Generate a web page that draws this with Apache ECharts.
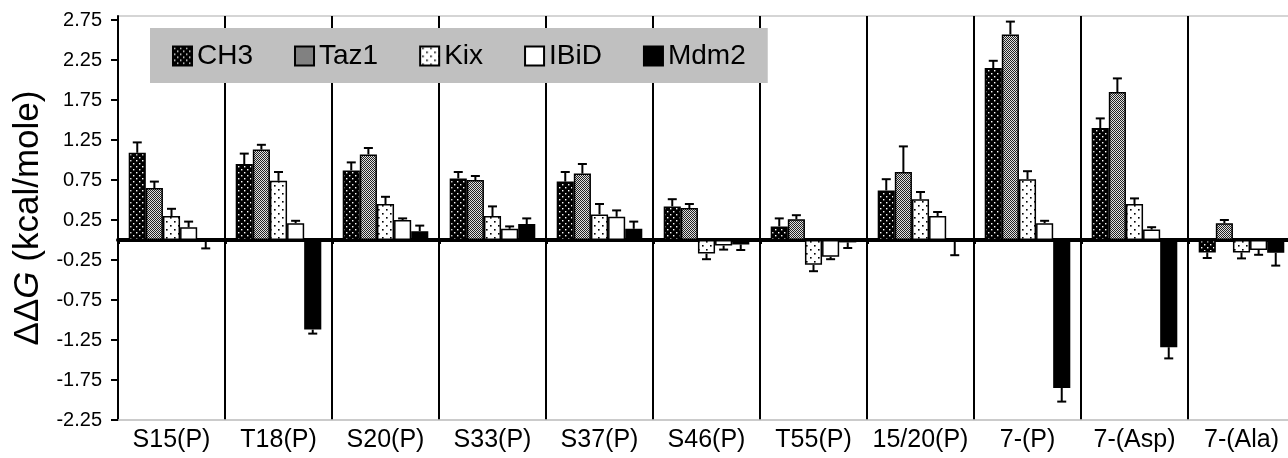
<!DOCTYPE html>
<html>
<head>
<meta charset="utf-8">
<script src="https://cdn.jsdelivr.net/npm/echarts@6/dist/echarts.min.js"></script>
<style>
html,body{margin:0;padding:0;background:#fff;}
#c{width:1288px;height:458px;}
</style>
</head>
<body>
<div id="c"></div>
<script>
const categories = ['S15(P)','T18(P)','S20(P)','S33(P)','S37(P)','S46(P)','T55(P)','15/20(P)','7-(P)','7-(Asp)','7-(Ala)'];
const seriesNames = ['CH3','Taz1','Kix','IBiD','Mdm2'];
const ch3    = [1.09, 0.95, 0.87, 0.77, 0.73, 0.42, 0.17, 0.62, 2.15, 1.40, -0.155];
const ch3Err = [0.13, 0.13, 0.10, 0.08, 0.12, 0.09, 0.10, 0.14, 0.09, 0.12, 0.07];
const taz1    = [0.65, 1.13, 1.07, 0.75, 0.83, 0.40, 0.26, 0.85, 2.57, 1.85, 0.21];
const taz1Err = [0.08, 0.06, 0.08, 0.05, 0.12, 0.05, 0.05, 0.32, 0.16, 0.17, 0.04];
const kix    = [0.30, 0.74, 0.45, 0.30, 0.32, -0.17, -0.31, 0.51, 0.76, 0.45, -0.155];
const kixErr = [0.09, 0.11, 0.09, 0.12, 0.13, 0.07, 0.08, 0.09, 0.10, 0.07, 0.075];
const ibid    = [0.16, 0.21, 0.25, 0.14, 0.29, -0.07, -0.21, 0.30, 0.21, 0.13, -0.125];
const ibidErr = [0.07, 0.03, 0.02, 0.03, 0.08, 0.05, 0.03, 0.05, 0.03, 0.03, 0.06];
const mdm2    = [-0.02, -1.12, 0.11, 0.20, 0.14, -0.055, -0.03, -0.02, -1.85, -1.34, -0.16];
const mdm2Err = [0.085, 0.05, 0.07, 0.07, 0.09, 0.07, 0.07, 0.17, 0.17, 0.14, 0.16];
const yTicks = [-2.25, -1.75, -1.25, -0.75, -0.25, 0.25, 0.75, 1.25, 1.75, 2.25, 2.75];

const values = [ch3, taz1, kix, ibid, mdm2];
const errors = [ch3Err, taz1Err, kixErr, ibidErr, mdm2Err];

function makePattern(w, h, bg, fg, dots, size) {
  const cv = document.createElement('canvas');
  cv.width = w; cv.height = h;
  const ctx = cv.getContext('2d');
  ctx.fillStyle = bg; ctx.fillRect(0, 0, w, h);
  ctx.fillStyle = fg;
  dots.forEach(d => ctx.fillRect(d[0], d[1], size, size));
  return { image: cv, repeat: 'repeat' };
}
const fills = [
  makePattern(6, 6, '#000', '#fff', [[1,1],[4,4]], 1.4),
  makePattern(2, 2, '#e0e0e0', '#222', [[0,0],[1,1]], 1),
  makePattern(8, 8, '#fff', '#000', [[2,1],[6,5]], 1.6),
  '#fff',
  '#000'
];

const FONT = '"Liberation Sans", Arial, Helvetica, sans-serif';

const barSeries = seriesNames.map((n, i) => ({
  name: n,
  type: 'bar',
  xAxisIndex: 0,
  data: values[i],
  barGap: '0%',
  barCategoryGap: '20%',
  itemStyle: { color: fills[i], borderColor: '#000', borderWidth: 1.5 },
  z: 2
}));

const errData = [];
values.forEach((arr, si) => arr.forEach((v, ci) => errData.push([ci, v, errors[si][ci], si])));

const option = {
  animation: false,
  backgroundColor: '#fff',
  grid: { left: 118, width: 1177, top: 16, bottom: 38, outerBoundsMode: 'none', containLabel: false, show: true, borderColor: '#c8c8c8', borderWidth: 1.5, backgroundColor: 'transparent' },
  legend: {
    data: seriesNames,
    left: 150, top: 28,
    backgroundColor: '#c0c0c0',
    padding: [14, 22, 13, 22],
    itemWidth: 19, itemHeight: 19, itemGap: 41,
    icon: 'rect',
    textStyle: { fontSize: 28, color: '#000', fontFamily: FONT, lineHeight: 20 }
  },
  xAxis: [
    {
      type: 'category', data: categories, position: 'bottom',
      axisLine: { onZero: false, lineStyle: { color: '#c8c8c8', width: 1.5 } },
      axisTick: { show: false },
      axisLabel: { interval: 0, fontSize: 25, color: '#000', margin: 8, fontFamily: FONT },
      splitLine: { show: true, interval: 0, lineStyle: { color: '#000', width: 2 } }
    },
    {
      type: 'category', data: categories, position: 'bottom',
      axisLine: { onZero: true, lineStyle: { color: '#000', width: 4 } },
      axisTick: { show: true, length: 4, lineStyle: { color: '#000', width: 3 } },
      axisLabel: { show: false },
      splitLine: { show: false }
    }
  ],
  yAxis: {
    type: 'value', min: -2.25, max: 2.8,
    axisLine: { show: true, onZero: false, lineStyle: { color: '#000', width: 2 } },
    axisTick: { show: true, customValues: yTicks, length: 7, lineStyle: { color: '#000', width: 2 } },
    axisLabel: { customValues: yTicks, formatter: v => v.toFixed(2), fontSize: 20, color: '#000', margin: 16, fontFamily: FONT },
    splitLine: { show: false },
    name: '{d|ΔΔ}{g|G}{d| (kcal/mole)}',
    nameLocation: 'middle',
    nameGap: 70,
    nameTextStyle: {
      fontSize: 35, color: '#000', fontFamily: FONT,
      rich: {
        d: { fontSize: 35, color: '#000', fontFamily: FONT },
        g: { fontSize: 35, color: '#000', fontFamily: FONT, fontStyle: 'italic' }
      }
    }
  },
  series: barSeries.concat([{
    name: 'err',
    type: 'custom',
    xAxisIndex: 0,
    z: 5,
    data: errData,
    encode: { x: 0, y: 1 },
    renderItem: function (params, api) {
      const ci = api.value(0), v = api.value(1), e = api.value(2), si = api.value(3);
      const bw = api.size([1, 0])[0] * 0.8 / 5;
      const p = api.coord([ci, v]);
      const x = p[0] + (si - 2) * bw;
      const q = api.coord([ci, v >= 0 ? v + e : v - e]);
      return {
        type: 'group',
        children: [
          { type: 'line', shape: { x1: x, y1: p[1], x2: x, y2: q[1] }, style: { stroke: '#000', lineWidth: 2 } },
          { type: 'line', shape: { x1: x - 4.5, y1: q[1], x2: x + 4.5, y2: q[1] }, style: { stroke: '#000', lineWidth: 2 } }
        ]
      };
    }
  }])
};

const chart = echarts.init(document.getElementById('c'), null, { renderer: 'canvas' });
chart.setOption(option);
</script>
</body>
</html>
